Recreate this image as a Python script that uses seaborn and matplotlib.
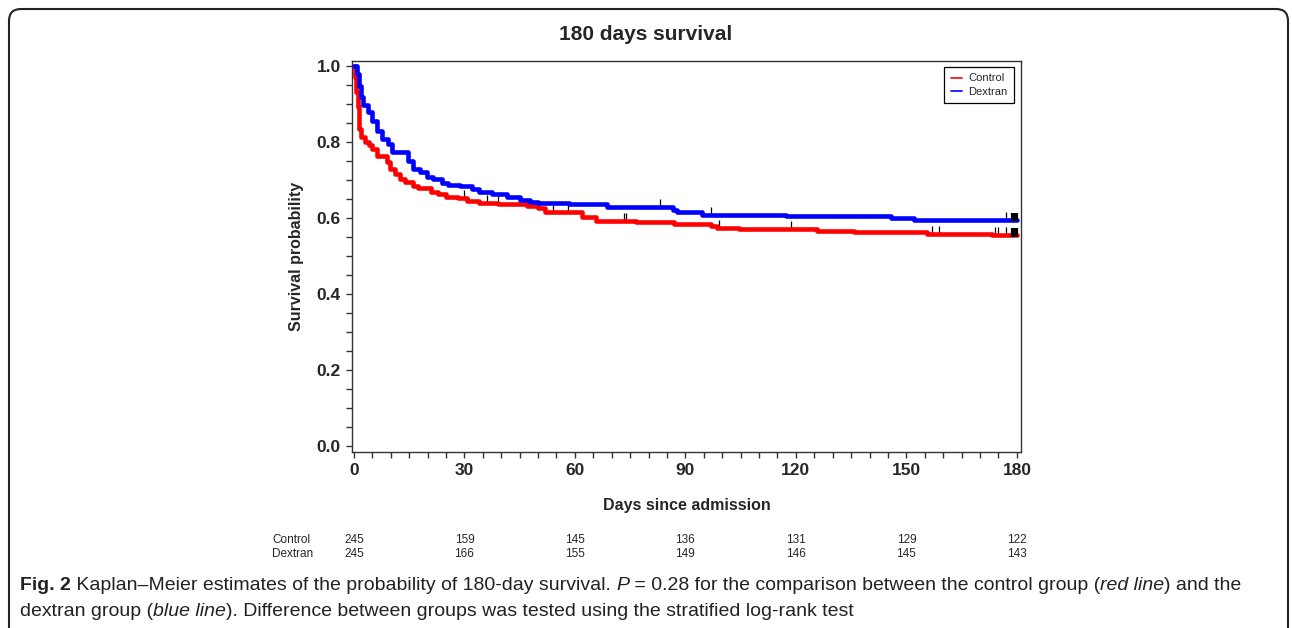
import matplotlib
matplotlib.use("Agg")
import matplotlib.pyplot as plt
import matplotlib.transforms as mtransforms
from matplotlib.lines import Line2D
from matplotlib.patches import FancyBboxPatch
from matplotlib.ticker import MultipleLocator
import numpy as np
import pandas as pd
import seaborn as sns

# Kaplan-Meier step values
control_days = [0, 0.3, 0.6, 1.0, 1.5, 2.0, 3.0, 4.0, 5.0, 6.2, 8.9, 9.8, 11.1, 12.5, 13.8,
                16.0, 17.3, 21.0, 22.8, 25.0, 28.2, 30.6, 34.0, 39.0, 47.0, 50.0, 51.8,
                61.8, 65.8, 76.7, 87.0, 97.0, 98.7, 104.6, 125.8, 135.8, 155.6, 173.2, 180]
control_surv = [1.0, 0.97, 0.93, 0.89, 0.834, 0.813, 0.80, 0.79, 0.78, 0.763, 0.747, 0.729,
                0.716, 0.703, 0.695, 0.684, 0.679, 0.668, 0.663, 0.655, 0.653, 0.645, 0.639,
                0.637, 0.632, 0.626, 0.616, 0.603, 0.592, 0.589, 0.584, 0.579, 0.574, 0.571,
                0.566, 0.563, 0.558, 0.555, 0.555]
dextran_days = [0, 0.8, 1.4, 1.8, 2.5, 3.8, 4.8, 6.2, 7.6, 9.3, 10.3, 14.6, 16.0, 17.9, 19.8,
                21.4, 23.9, 25.5, 28.7, 32.0, 34.0, 37.4, 41.5, 45.0, 47.7, 50.0, 58.5, 68.6,
                86.5, 87.8, 94.6, 117.4, 145.8, 152.0, 180]
dextran_surv = [1.0, 0.979, 0.945, 0.918, 0.895, 0.879, 0.855, 0.829, 0.808, 0.795, 0.774,
                0.75, 0.729, 0.721, 0.708, 0.703, 0.692, 0.686, 0.684, 0.676, 0.668, 0.661,
                0.655, 0.647, 0.642, 0.639, 0.637, 0.629, 0.621, 0.616, 0.608, 0.605, 0.600,
                0.595, 0.595]

# censored observations
control_censored = [30, 36, 39, 54, 58, 73.2, 74, 99, 118.7, 157, 158.9, 174, 175, 177,
                    178.8, 179.2, 179.6, 180]
dextran_censored = [83.2, 97, 177, 178.8, 179.2, 179.6, 180]

# number at risk table
risk_days = [0, 30, 60, 90, 120, 150, 180]
risk_control = [245, 159, 145, 136, 131, 129, 122]
risk_dextran = [245, 166, 155, 149, 146, 145, 143]

colors = {"Control": "#ff0000", "Dextran": "#0000ff"}

sns.set_style("ticks")
plt.rcParams["font.family"] = ["Liberation Sans", "DejaVu Sans"]
narrow = ["Liberation Sans Narrow", "Liberation Sans", "DejaVu Sans"]

df = pd.concat([
    pd.DataFrame({"day": control_days, "surv": control_surv, "group": "Control"}),
    pd.DataFrame({"day": dextran_days, "surv": dextran_surv, "group": "Dextran"}),
])

fig = plt.figure(figsize=(12.92, 6.28), dpi=100)
ax = fig.add_axes([0.2724, 0.2803, 0.5178, 0.6226])

sns.lineplot(data=df, x="day", y="surv", hue="group", palette=colors, estimator=None,
             drawstyle="steps-post", lw=3.3, ax=ax, legend=False, zorder=3)

# censor marks
for name, days, surv, cens in [("Control", control_days, control_surv, control_censored),
                               ("Dextran", dextran_days, dextran_surv, dextran_censored)]:
    cens = np.array(cens)
    idx = np.searchsorted(np.array(days), cens, side="right") - 1
    vals = np.array(surv)[idx]
    end = cens >= 178.5
    ax.vlines(cens[~end], vals[~end] - 0.004, vals[~end] + 0.02, color="black", lw=0.9, zorder=2)
    ax.vlines(cens[end], vals[end] - 0.005, vals[end] + 0.018, color="black", lw=1.6, zorder=4)

ax.set_xlim(-0.54, 181.1)
ax.set_ylim(-0.016, 1.012)
ax.xaxis.set_major_locator(MultipleLocator(30))
ax.xaxis.set_minor_locator(MultipleLocator(5))
ax.yaxis.set_minor_locator(MultipleLocator(0.05))
ax.set_yticks(np.arange(0, 1.01, 0.2))
ax.set_yticklabels([f"{v:.1f}" for v in np.arange(0, 1.01, 0.2)])
ax.tick_params(which="both", direction="out", length=4, width=1, color="#333333")
ax.tick_params(which="major", labelsize=12.5, pad=4)
for lab in ax.get_xticklabels() + ax.get_yticklabels():
    lab.set_fontweight("bold")
for sp in ax.spines.values():
    sp.set_visible(True)
    sp.set_linewidth(1)
    sp.set_color("#333333")

ax.set_xlabel("Days since admission", fontsize=11.5, fontweight="bold", labelpad=14)
ax.set_ylabel("Survival probability", fontsize=11.5, fontweight="bold", labelpad=9)
fig.text(0.5, 1 - 35 / 628, "180 days survival", fontsize=15, fontweight="bold",
         ha="center", va="center")

handles = [Line2D([0], [0], color=colors[g], lw=1.2) for g in ["Control", "Dextran"]]
leg = ax.legend(handles, ["Control", "Dextran"], loc="upper right", bbox_to_anchor=(0.9985, 0.9995),
                fontsize=8, frameon=True, fancybox=False, edgecolor="black", framealpha=1,
                handlelength=1.0, handletextpad=0.6, borderpad=0.6, labelspacing=0.3)
leg.get_frame().set_linewidth(0.9)

# number at risk rows
blend = mtransforms.blended_transform_factory(ax.transData, fig.transFigure)
for row_y, name, counts in [(0.140, "Control", risk_control), (0.118, "Dextran", risk_dextran)]:
    fig.text(272 / 1292, row_y, name, fontsize=8.5, family=narrow, va="center", ha="left")
    for d, n in zip(risk_days, counts):
        ax.text(d, row_y, str(n), transform=blend, fontsize=8.5, family=narrow,
                va="center", ha="center", clip_on=False)

# caption with mixed styles
ident = mtransforms.IdentityTransform()
renderer = fig.canvas.get_renderer()


def rich_line(x, y, parts, size=14):
    for s, weight, style in parts:
        t = fig.text(x, y, s, transform=ident, fontsize=size, fontweight=weight,
                     fontstyle=style, va="center", ha="left", color="#222222")
        x += t.get_window_extent(renderer).width


rich_line(20, 628 - 586, [
    ("Fig. 2", "bold", "normal"),
    (" Kaplan\u2013Meier estimates of the probability of 180-day survival. ", "normal", "normal"),
    ("P", "normal", "italic"),
    (" = 0.28 for the comparison between the control group (", "normal", "normal"),
    ("red line", "normal", "italic"),
    (") and the", "normal", "normal"),
])
rich_line(20, 628 - 611, [
    ("dextran group (", "normal", "normal"),
    ("blue line", "normal", "italic"),
    ("). Difference between groups was tested using the stratified log-rank test", "normal", "normal"),
])

# outer rounded frame
frame = FancyBboxPatch((9, -40), 1279, 628 - 9 + 40, boxstyle="round,pad=0,rounding_size=12",
                       transform=ident, fill=False, edgecolor="#222222", lw=1.5)
fig.patches.append(frame)

fig.savefig("out.png", dpi=100)
